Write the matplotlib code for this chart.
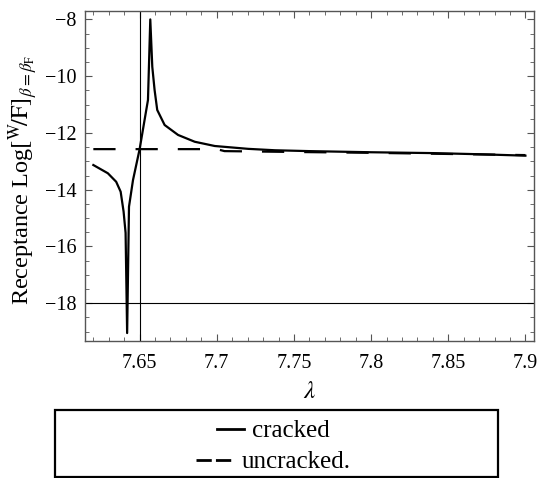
import numpy as np
import matplotlib
matplotlib.use("Agg")
import matplotlib.pyplot as plt
from matplotlib.lines import Line2D
from matplotlib.patches import Rectangle

plt.rcParams['font.family'] = ['Liberation Serif', 'DejaVu Serif']
plt.rcParams['mathtext.fontset'] = 'stix'

# cracked beam receptance
lam_cracked = [7.620, 7.6294, 7.6348, 7.6377, 7.6396, 7.6409, 7.6419, 7.6431,
               7.6457, 7.650, 7.6543, 7.6554, 7.6569, 7.6582, 7.6597, 7.6614,
               7.6662, 7.6749, 7.6857, 7.6987, 7.7203, 7.7377, 7.760, 7.800,
               7.840, 7.870, 7.900]
rec_cracked = [-13.13, -13.42, -13.72, -14.07, -14.77, -15.52, -19.05, -14.6,
               -13.66, -12.57, -11.19, -10.84, -8.0, -9.67, -10.49, -11.19,
               -11.72, -12.07, -12.31, -12.46, -12.56, -12.61, -12.64, -12.68,
               -12.71, -12.75, -12.80]

# uncracked beam receptance
lam_uncracked = [7.620, 7.700, 7.705, 7.750, 7.800, 7.850, 7.900]
rec_uncracked = [-12.57, -12.57, -12.64, -12.67, -12.70, -12.74, -12.78]

fig = plt.figure(figsize=(5.5, 4.78), dpi=100)
ax = fig.add_axes([0.154, 0.2866, 0.817, 0.690])

ax.plot(lam_cracked, rec_cracked, color='black', lw=1.6)
ax.plot(lam_uncracked, rec_uncracked, color='black', lw=1.6, dashes=(10, 9))
ax.axvline(7.65, color='black', lw=0.8)
ax.axhline(-18, color='black', lw=0.8)

ax.set_xlim(7.6144, 7.9056)
ax.set_ylim(-19.33, -7.71)
ax.set_xticks([7.65, 7.7, 7.75, 7.8, 7.85, 7.9])
ax.set_xticklabels(['7.65', '7.7', '7.75', '7.8', '7.85', '7.9'])
ax.set_xticks(np.arange(7.62, 7.905, 0.01), minor=True)
ax.set_yticks([-18, -16, -14, -12, -10, -8])
ax.set_yticklabels(['\u221218', '\u221216', '\u221214', '\u221212', '\u221210', '\u22128'])
ax.set_yticks(np.arange(-19, -7.9, 0.5), minor=True)

ax.tick_params(which='both', direction='in', top=True, right=True,
               color='#555555', labelsize=14.5)
ax.tick_params(which='major', length=5, width=0.8)
ax.tick_params(axis='x', which='major', pad=9)
ax.tick_params(axis='y', which='major', pad=6)
ax.tick_params(which='minor', length=3, width=0.6)
for s in ax.spines.values():
    s.set_color('#555555')
    s.set_linewidth(1.0)

ax.set_xlabel(r'$\lambda$', fontsize=18, labelpad=6)
ax.set_ylabel(r'Receptance Log$\left[{}^{\mathrm{W}}\!/\mathrm{F}\right]_{\beta=\beta_{\mathrm{F}}}$',
              fontsize=17.5)
ax.yaxis.set_label_coords(-0.10, 0.488)

# legend box below the axes, entries centred
fig.add_artist(Rectangle((0.1, 0.003), 0.805, 0.139, transform=fig.transFigure,
                         fill=False, edgecolor='black', lw=1.6))
h1 = Line2D([], [], color='black', lw=2.0)
h2 = Line2D([], [], color='black', lw=2.0, dashes=(5.5, 1.5))
fig.legend([h1], ['cracked'], loc='center', bbox_to_anchor=(0.497, 0.098),
           frameon=False, fontsize=18, handlelength=1.1, handletextpad=0.3,
           borderpad=0)
fig.legend([h2], ['uncracked.'], loc='center', bbox_to_anchor=(0.497, 0.033),
           frameon=False, fontsize=18, handlelength=1.5, handletextpad=0.3,
           borderpad=0)

fig.savefig('out.png', dpi=100)
